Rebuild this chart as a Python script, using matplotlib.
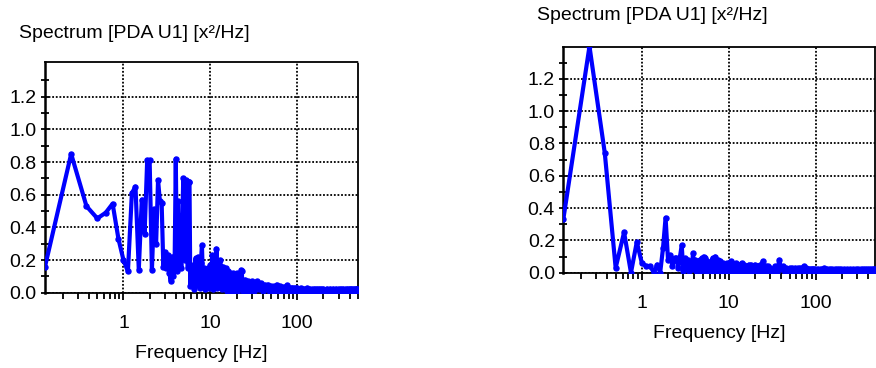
import numpy as np
import matplotlib
matplotlib.use("Agg")
import matplotlib.pyplot as plt
from matplotlib.ticker import FixedLocator, LogLocator, NullFormatter

plt.rcParams['font.family'] = ['Liberation Sans', 'DejaVu Sans']

# --- data ---
# low band, 0.125 Hz resolution
f_low = [0.125, 0.25, 0.375, 0.5, 0.625, 0.75, 0.875, 1.0,
         1.125, 1.25, 1.375, 1.5, 1.625, 1.75, 1.875, 2.0,
         2.125, 2.25, 2.375, 2.5, 2.625, 2.75, 2.875, 3.0,
         3.125, 3.25, 3.375, 3.5, 3.625, 3.75, 3.875, 4.0,
         4.125, 4.25, 4.375, 4.5, 4.625, 4.75, 4.875, 5.0,
         5.125, 5.25, 5.375, 5.5, 5.625, 5.75, 5.875, 6.0]
# 6..12 Hz
f_mid1 = [6.25, 6.5, 6.75, 7.0, 7.25, 7.5, 7.75, 8.0,
          8.25, 8.5, 8.75, 9.0, 9.25, 9.5, 9.75, 10.0,
          10.25, 10.5, 10.75, 11.0, 11.25, 11.5, 11.75, 12.0]
# 12..30 Hz
f_mid2 = [12.5, 13, 13.5, 14, 14.5, 15, 15.5, 16, 16.5, 17, 17.5, 18,
          18.5, 19, 19.5, 20, 20.5, 21, 21.5, 22, 22.5, 23, 23.5, 24,
          24.5, 25, 25.5, 26, 26.5, 27, 27.5, 28, 28.5, 29, 29.5, 30]
# tail, 30..500 Hz
f_tail1 = [32, 34, 36, 38, 40, 42, 44, 46, 48, 50, 52, 54, 56, 58, 60]
f_tail2 = [62, 64, 66, 68, 70, 72, 74, 76, 78, 80,
           82, 84, 86, 88, 90, 92, 94, 96, 98, 100]
f_tail3 = [105, 110, 115, 120, 125, 130, 135, 140, 145, 150,
           155, 160, 165, 170, 175, 180, 185, 190, 195, 200]
f_tail4 = [210, 220, 230, 240, 250, 260, 270, 280, 290, 300,
           310, 320, 330, 340, 350, 360, 370, 380, 390, 400,
           410, 420, 430, 440, 450, 460, 470, 480, 490, 500]

# left spectrum
left_low = [0.16, 0.85, 0.53, 0.455, 0.49, 0.545, 0.33, 0.20,
            0.13, 0.61, 0.65, 0.14, 0.57, 0.36, 0.81, 0.81,
            0.14, 0.51, 0.30, 0.69, 0.56, 0.55, 0.16, 0.25,
            0.15, 0.23, 0.12, 0.07, 0.22, 0.10, 0.16, 0.82,
            0.13, 0.56, 0.18, 0.47, 0.15, 0.44, 0.70, 0.40,
            0.20, 0.69, 0.45, 0.15, 0.68, 0.68, 0.04, 0.17]
left_mid1 = [0.10, 0.02, 0.21, 0.05, 0.22, 0.03, 0.18, 0.29,
             0.04, 0.15, 0.02, 0.13, 0.04, 0.15, 0.03, 0.17,
             0.05, 0.23, 0.02, 0.20, 0.04, 0.12, 0.27, 0.03]
left_mid2 = [0.05, 0.20, 0.02, 0.16, 0.04, 0.15, 0.01, 0.13, 0.03, 0.12, 0.00, 0.12,
             0.02, 0.11, 0.01, 0.12, 0.00, 0.10, 0.02, 0.08, 0.14, 0.13, 0.01, 0.07,
             0.02, 0.08, 0.01, 0.06, 0.02, 0.07, 0.00, 0.06, 0.01, 0.06, 0.02, 0.07]
left_tail1 = [0.01, 0.07, 0.02, 0.06, 0.01, 0.05, 0.02, 0.05, 0.00, 0.04, 0.01, 0.04, 0.02, 0.05, 0.01]
left_tail2 = [0.01, 0.04, 0.00, 0.035, 0.01, 0.035, 0.00, 0.045, 0.01, 0.03,
              0.00, 0.03, 0.01, 0.03, 0.00, 0.03, 0.01, 0.03, 0.00, 0.03]
left_tail3 = [0.01, 0.03, 0.00, 0.025, 0.01, 0.03, 0.00, 0.025, 0.01, 0.025,
              0.00, 0.025, 0.01, 0.025, 0.00, 0.025, 0.01, 0.025, 0.00, 0.025]
left_tail4 = [0.01, 0.025, 0.00, 0.025, 0.01, 0.025, 0.00, 0.025, 0.01, 0.025,
              0.00, 0.025, 0.01, 0.025, 0.00, 0.025, 0.01, 0.025, 0.00, 0.025,
              0.01, 0.025, 0.00, 0.025, 0.01, 0.025, 0.00, 0.025, 0.01, 0.025]

# right spectrum
right_low = [0.33, 1.40, 0.74, 0.03, 0.25, 0.00, 0.19, 0.06,
             0.04, 0.04, 0.00, 0.05, 0.00, 0.15, 0.34, 0.08,
             0.11, 0.04, 0.09, 0.09, 0.03, 0.10, 0.17, 0.01,
             0.09, 0.02, 0.08, 0.01, 0.06, 0.02, 0.12, 0.03,
             0.08, 0.01, 0.07, 0.02, 0.08, 0.01, 0.09, 0.03,
             0.10, 0.02, 0.09, 0.01, 0.07, 0.02, 0.06, 0.01]
right_mid1 = [0.03, 0.09, 0.01, 0.10, 0.02, 0.08, 0.00, 0.07,
              0.02, 0.06, 0.00, 0.05, 0.01, 0.06, 0.00, 0.05,
              0.02, 0.07, 0.00, 0.06, 0.01, 0.05, 0.00, 0.06]
right_mid2 = [0.01, 0.05, 0.00, 0.06, 0.01, 0.05, 0.00, 0.04, 0.01, 0.05, 0.00, 0.05,
              0.01, 0.04, 0.00, 0.05, 0.01, 0.04, 0.00, 0.04, 0.01, 0.05, 0.00, 0.04,
              0.07, 0.01, 0.04, 0.00, 0.04, 0.01, 0.03, 0.00, 0.04, 0.01, 0.03, 0.00]
right_tail1 = [0.01, 0.04, 0.00, 0.08, 0.02, 0.04, 0.00, 0.03, 0.01, 0.03, 0.00, 0.03, 0.01, 0.03, 0.00]
right_tail2 = [0.03, 0.00, 0.03, 0.01, 0.03, 0.00, 0.04, 0.01, 0.03, 0.00,
               0.025, 0.01, 0.025, 0.00, 0.025, 0.01, 0.025, 0.00, 0.025, 0.01]
right_tail3 = [0.025, 0.00, 0.025, 0.01, 0.03, 0.00, 0.025, 0.01, 0.025, 0.00,
               0.02, 0.01, 0.02, 0.00, 0.02, 0.01, 0.02, 0.00, 0.02, 0.01]
right_tail4 = [0.02, 0.00, 0.02, 0.005, 0.02, 0.00, 0.02, 0.005, 0.02, 0.00,
               0.02, 0.005, 0.02, 0.00, 0.02, 0.005, 0.02, 0.00, 0.02, 0.005,
               0.02, 0.00, 0.02, 0.005, 0.02, 0.00, 0.02, 0.005, 0.02, 0.00]

title = "Spectrum [PDA U1] [x²/Hz]"
xlab = "Frequency [Hz]"
xticks = [1, 10, 100]
xticklabels = ["1", "10", "100"]
yticks = [0.0, 0.2, 0.4, 0.6, 0.8, 1.0, 1.2]
yminor = [0.1, 0.3, 0.5, 0.7, 0.9, 1.1, 1.3]

W, H = 876, 368
FS = 14
fig = plt.figure(figsize=(W / 100, H / 100), dpi=100)


def panel(rect, freq, vals, xmax, ymax):
    ax = fig.add_axes(rect)
    ax.plot(freq, vals, color='#0000ff', lw=3.0, marker='o', ms=3.6,
            solid_joinstyle='round', zorder=3)
    ax.set_xscale('log')
    ax.set_xlim(0.125, xmax)
    ax.set_ylim(0, ymax)
    ax.xaxis.set_major_locator(FixedLocator(xticks))
    ax.set_xticklabels(xticklabels)
    ax.xaxis.set_minor_locator(LogLocator(base=10, subs=np.arange(2, 10)))
    ax.xaxis.set_minor_formatter(NullFormatter())
    ax.yaxis.set_major_locator(FixedLocator(yticks))
    ax.yaxis.set_minor_locator(FixedLocator(yminor))
    ax.set_yticklabels(["%.1f" % v for v in yticks])
    ax.grid(True, which='major', color='black', ls=(0, (1, 1)), lw=1.3, zorder=1)
    ax.tick_params(axis='x', which='both', direction='out', labelsize=FS, pad=11, width=1.3)
    ax.tick_params(axis='x', which='major', length=5)
    ax.tick_params(axis='x', which='minor', length=4)
    ax.tick_params(axis='y', which='both', direction='inout', length=6, width=1.3,
                   labelsize=FS, pad=3)
    for s in ['top', 'right', 'bottom']:
        ax.spines[s].set_linestyle((0, (1, 1)))
        ax.spines[s].set_linewidth(1.3)
    ax.spines['left'].set_linewidth(1.8)
    return ax


fL = f_low + f_mid1 + f_mid2 + f_tail1 + f_tail2 + f_tail3 + f_tail4
panel([45 / W, 1 - 292.7 / H, 313 / W, 230.7 / H], fL,
      left_low + left_mid1 + left_mid2 + left_tail1 + left_tail2 + left_tail3 + left_tail4,
      500, 1.413)
panel([563.3 / W, 1 - 272.7 / H, 311.7 / W, 226 / H], fL,
      right_low + right_mid1 + right_mid2 + right_tail1 + right_tail2 + right_tail3 + right_tail4,
      480, 1.398)

fig.text(19 / W, 1 - 33 / H, title, fontsize=FS, ha='left', va='center')
fig.text(537 / W, 1 - 16 / H, title, fontsize=FS, ha='left', va='center')
fig.text(201.5 / W, 1 - 354 / H, xlab, fontsize=FS, ha='center', va='center')
fig.text(719 / W, 1 - 333 / H, xlab, fontsize=FS, ha='center', va='center')

fig.savefig("out.png", dpi=100)
